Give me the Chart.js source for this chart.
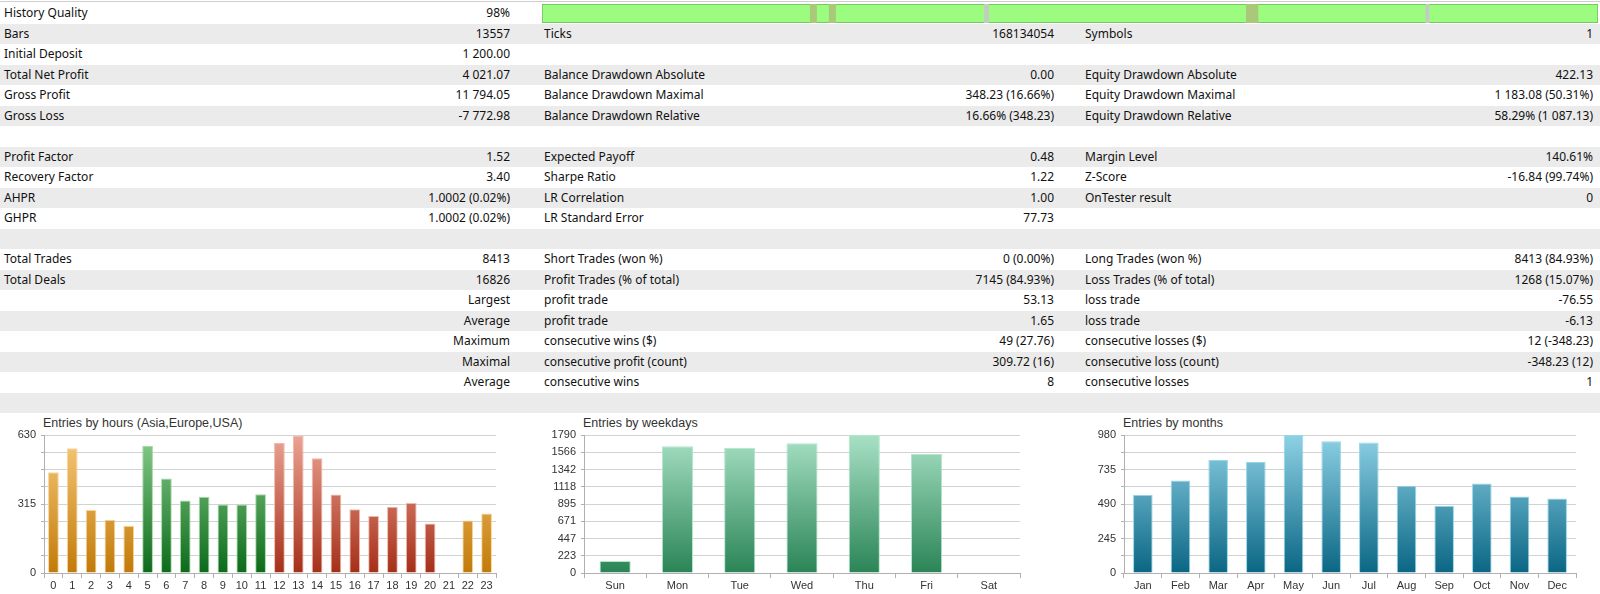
<!DOCTYPE html>
<html lang="en">
<meta charset="utf-8" />
<title>Tester report</title>
<script src="https://cdn.jsdelivr.net/npm/chart.js@4.4.1"></script>

<style>
*{box-sizing:border-box}
body{margin:0;width:1600px;height:594px;overflow:hidden;background:#fff;position:relative;font-family:"Noto Sans",sans-serif;font-size:12px;color:#111}
.topline{position:absolute;left:0;top:1px;width:1600px;height:1px;background:#cfcfcf}
.row{position:absolute;left:0;width:1600px;height:20.5px;line-height:20.5px;white-space:nowrap}
.row.g{background:#ebebeb}
.row span{position:absolute;top:0}
.r{text-align:right}
.title{position:absolute;top:416px;font-family:"Liberation Sans",Arial,sans-serif;font-size:12.5px;color:#333;white-space:nowrap}
canvas{position:absolute}
</style>

<body>
<div class="topline"></div>
<div id="table"></div>

<canvas id="quality" width="1056" height="19" style="left:542px;top:4px"></canvas>

<div class="title" style="left:43px">Entries by hours (Asia,Europe,USA)</div>
<div class="title" style="left:583px">Entries by weekdays</div>
<div class="title" style="left:1123px">Entries by months</div>

<canvas id="hours"    width="498" height="181" style="left:0;top:413px"></canvas>
<canvas id="weekdays" width="482" height="181" style="left:540px;top:413px"></canvas>
<canvas id="months"   width="498" height="181" style="left:1080px;top:413px"></canvas>

<script>
/*── 報表表格：每列 [標籤1, 值1, 標籤2, 值2, 標籤3, 值3] ──*/
const reportRows = [
  ['History Quality','98%','','','',''],
  ['Bars','13557','Ticks','168134054','Symbols','1'],
  ['Initial Deposit','1 200.00','','','',''],
  ['Total Net Profit','4 021.07','Balance Drawdown Absolute','0.00','Equity Drawdown Absolute','422.13'],
  ['Gross Profit','11 794.05','Balance Drawdown Maximal','348.23 (16.66%)','Equity Drawdown Maximal','1 183.08 (50.31%)'],
  ['Gross Loss','-7 772.98','Balance Drawdown Relative','16.66% (348.23)','Equity Drawdown Relative','58.29% (1 087.13)'],
  ['','','','','',''],
  ['Profit Factor','1.52','Expected Payoff','0.48','Margin Level','140.61%'],
  ['Recovery Factor','3.40','Sharpe Ratio','1.22','Z-Score','-16.84 (99.74%)'],
  ['AHPR','1.0002 (0.02%)','LR Correlation','1.00','OnTester result','0'],
  ['GHPR','1.0002 (0.02%)','LR Standard Error','77.73','',''],
  ['','','','','',''],
  ['Total Trades','8413','Short Trades (won %)','0 (0.00%)','Long Trades (won %)','8413 (84.93%)'],
  ['Total Deals','16826','Profit Trades (% of total)','7145 (84.93%)','Loss Trades (% of total)','1268 (15.07%)'],
  ['','Largest','profit trade','53.13','loss trade','-76.55'],
  ['','Average','profit trade','1.65','loss trade','-6.13'],
  ['','Maximum','consecutive wins ($)','49 (27.76)','consecutive losses ($)','12 (-348.23)'],
  ['','Maximal','consecutive profit (count)','309.72 (16)','consecutive loss (count)','-348.23 (12)'],
  ['','Average','consecutive wins','8','consecutive losses','1'],
  ['','','','','','']
];

/*── History Quality 條：區段 [起, 迄]（% of history）──*/
const qualityGood    = [[0, 100]];
const qualityPartial = [[25.4, 26.0], [27.2, 27.8], [66.7, 67.8]];
const qualityMissing = [[41.9, 42.3], [83.7, 84.0]];

/*── Entries by hours ──*/
const hourLabels  = ['0','1','2','3','4','5','6','7','8','9','10','11','12','13','14','15','16','17','18','19','20','21','22','23'];
const hourValues  = [460,569,288,243,216,580,431,331,348,313,313,360,594,625,524,358,291,260,302,320,226,0,240,272];
const hourSession = ['asia','asia','asia','asia','asia','europe','europe','europe','europe','europe','europe','europe',
                     'usa','usa','usa','usa','usa','usa','usa','usa','usa','asia','asia','asia'];
const hourMax = 630;
const hourTickLabels = ['0','','','','315','','','','630'];

/*── Entries by weekdays ──*/
const weekdayLabels = ['Sun','Mon','Tue','Wed','Thu','Fri','Sat'];
const weekdayValues = [155,1643,1626,1682,1790,1544,0];
const weekdayMax = 1790;
const weekdayTickLabels = ['0','223','447','671','895','1118','1342','1566','1790'];

/*── Entries by months ──*/
const monthLabels = ['Jan','Feb','Mar','Apr','May','Jun','Jul','Aug','Sep','Oct','Nov','Dec'];
const monthValues = [555,656,803,789,980,935,926,619,477,635,543,529];
const monthMax = 980;
const monthTickLabels = ['0','','245','','490','','735','','980'];

/* 顏色：[上, 下, 邊框] */
const sessionColors = {
  asia:   ['#f7ca7c','#c27a08','#f8d598'],
  europe: ['#8acd8c','#0c6a1a','#a4dca6'],
  usa:    ['#eba494','#a52f18','#f2b8aa']
};
const weekdayColors = ['#a8e1c5','#2a8456','#b0e6cb'];
const monthColors   = ['#8ed1e5','#0a6684','#96d6ea'];

/*── 表格 ──*/
const table = document.getElementById('table');
const cols = [
  {left:4,    w:0,   align:'l'}, {left:0,    w:510, align:'r'},
  {left:544,  w:0,   align:'l'}, {left:544,  w:510, align:'r'},
  {left:1085, w:0,   align:'l'}, {left:1085, w:508, align:'r'}
];
reportRows.forEach((r, i) => {
  const row = document.createElement('div');
  row.className = 'row' + (i % 2 ? ' g' : '');
  row.style.top = (3 + i * 20.5) + 'px';
  r.forEach((txt, c) => {
    if (!txt) return;
    const s = document.createElement('span');
    s.textContent = txt;
    s.style.left = cols[c].left + 'px';
    if (cols[c].align === 'r') { s.className = 'r'; s.style.width = cols[c].w + 'px'; }
    row.appendChild(s);
  });
  table.appendChild(row);
});

Chart.defaults.font.family = '"Liberation Sans", Arial, sans-serif';
Chart.defaults.font.size = 11;
Chart.defaults.color = '#333';

/*── History Quality（浮動橫條，後畫的在下層）──*/
const qSet = (data, color) => ({data, backgroundColor:color, borderWidth:0,
  barPercentage:1, categoryPercentage:1, grouped:false});
new Chart(document.getElementById('quality'), {
  type:'bar',
  data:{ labels:['q'], datasets:[
    ...qualityMissing.map(v => qSet([v], '#c4cbc0')),
    ...qualityPartial.map(v => qSet([v], '#a9c978')),
    {...qSet(qualityGood, '#9bfc80'), borderWidth:1, borderColor:'#6fb65c', borderSkipped:false}
  ]},
  options:{
    indexAxis:'y', responsive:false, animation:false,
    layout:{padding:0},
    plugins:{legend:{display:false}, tooltip:{enabled:false}},
    scales:{ x:{display:false, min:0, max:100}, y:{display:false} }
  }
});

/* 直向漸層（跟 chartArea 對齊，短的長條只會拿到深色段） */
function grad(ctx, top, bottom){
  const a = ctx.chart.chartArea;
  if (!a) return bottom;
  const g = ctx.chart.ctx.createLinearGradient(0, a.top, 0, a.bottom);
  g.addColorStop(0, top);
  g.addColorStop(1, bottom);
  return g;
}

function barChart(id, labels, values, max, tickLabels, colorOf, barPct){
  return new Chart(document.getElementById(id), {
    type:'bar',
    data:{ labels, datasets:[{
      data: values,
      backgroundColor: c => { const k = colorOf(c.dataIndex); return grad(c, k[0], k[1]); },
      borderColor: c => colorOf(c.dataIndex)[2],
      borderWidth: 1,
      barPercentage: barPct,
      categoryPercentage: 1
    }]},
    options:{
      responsive:false, animation:false,
      layout:{ padding:{ top:22, right:2, left:0, bottom:0 } },
      plugins:{ legend:{display:false}, tooltip:{enabled:false} },
      scales:{
        x:{
          offset:true,
          grid:{ display:true, drawOnChartArea:false, drawTicks:true, tickLength:5, color:'#b0b0b0', offset:true },
          border:{ display:true, color:'#b0b0b0' },
          ticks:{ padding:1, color:'#333', maxRotation:0, autoSkip:false },
          afterFit: s => { s.height = 21; }
        },
        y:{
          min:0, max,
          grid:{ color:'#d2d2d2', tickLength:3, tickColor:'#b0b0b0' },
          border:{ display:true, color:'#b0b0b0' },
          ticks:{ count:tickLabels.length, padding:5, color:'#333',
                  callback:(v, i) => tickLabels[i] },
          afterFit: s => { s.width = 44; }
        }
      }
    }
  });
}

barChart('hours', hourLabels, hourValues, hourMax, hourTickLabels,
         i => sessionColors[hourSession[i]], 0.57);
barChart('weekdays', weekdayLabels, weekdayValues, weekdayMax, weekdayTickLabels,
         () => weekdayColors, 0.5);
barChart('months', monthLabels, monthValues, monthMax, monthTickLabels,
         () => monthColors, 0.52);
</script>
</body>
</html>
